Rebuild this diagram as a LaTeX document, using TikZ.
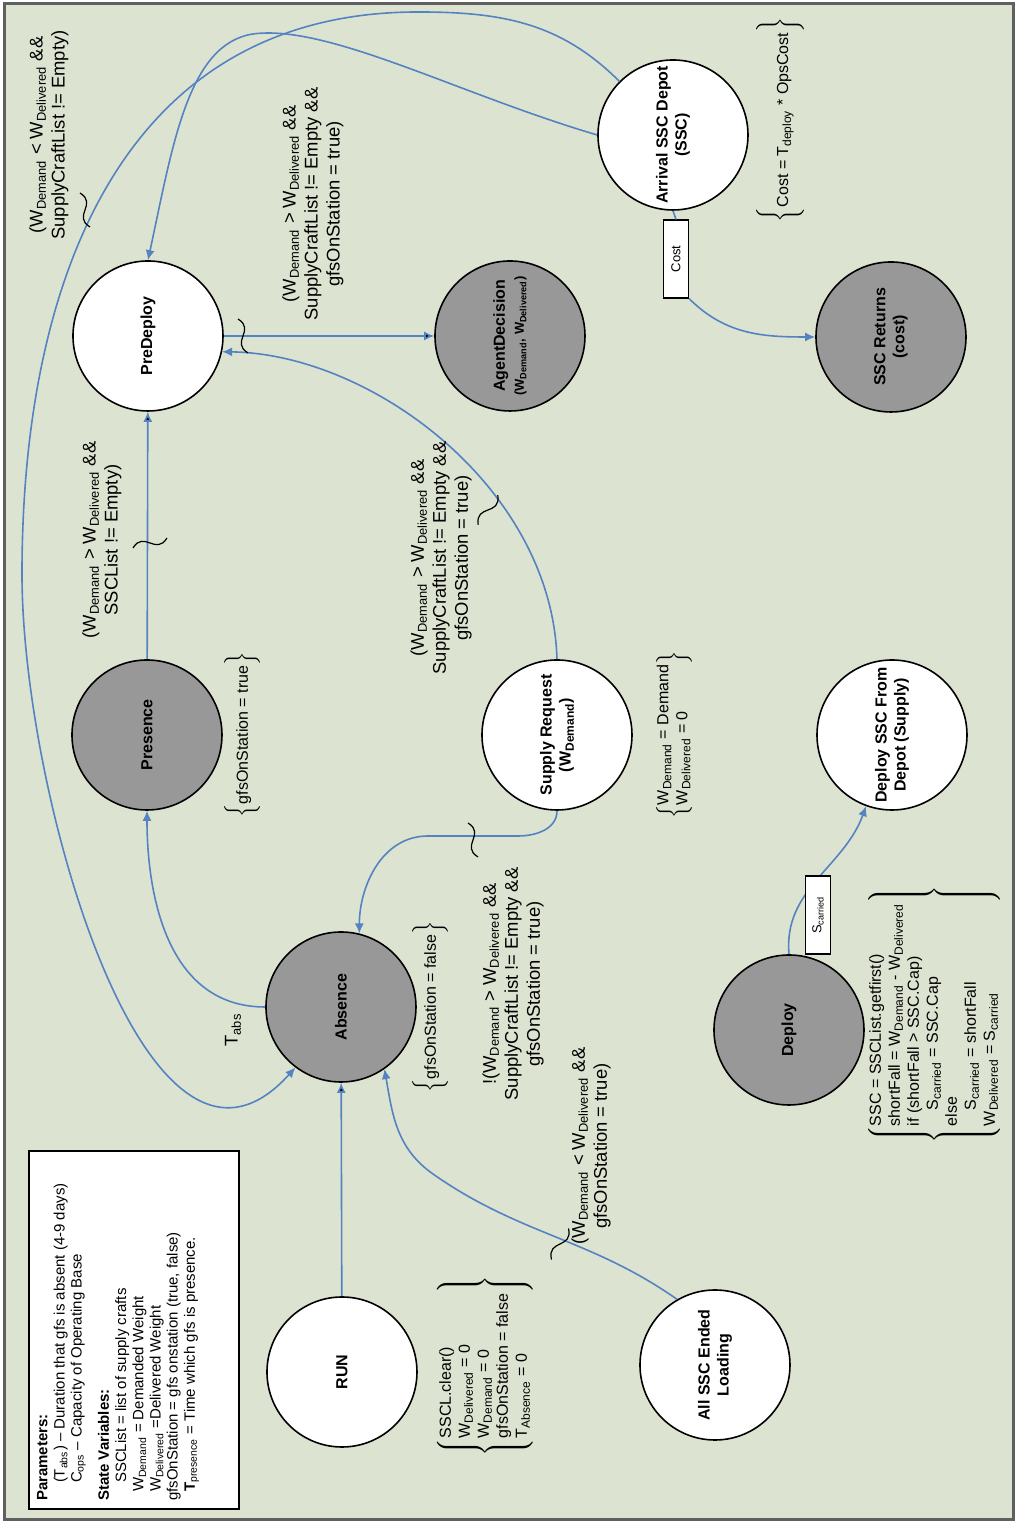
\documentclass[tikz,border=0pt]{standalone}
\usepackage{fontspec}
\setmainfont{Liberation Sans}
\usetikzlibrary{arrows.meta}

\definecolor{paper}{RGB}{221,227,209}
\definecolor{wire}{RGB}{84,131,194}
\definecolor{shade}{RGB}{152,152,152}
\definecolor{rim}{RGB}{96,96,96}

\newcommand{\Wdem}{W\textsubscript{Demand}}
\newcommand{\Wdel}{W\textsubscript{Delivered}}
\newcommand{\effect}[1]{$\left\{\begin{tabular}{@{}l@{}}#1\end{tabular}\right\}$}

\tikzset{
  event/.style      = {circle, draw, line width=0.8pt, minimum size=75pt, inner sep=0pt,
                       align=center, font=\bfseries\fontsize{8}{9.5}\selectfont},
  whitestate/.style = {event, fill=white},
  graystate/.style  = {event, fill=shade},
  flow/.style       = {draw=wire, line width=0.8pt, -{Latex[length=5pt, width=4.5pt]}},
  guard/.style      = {align=center, font=\fontsize{9.2}{11}\selectfont},
  update/.style     = {inner sep=0pt, font=\fontsize{8}{9.5}\selectfont},
  tag/.style        = {draw, fill=white, line width=0.6pt, minimum width=39pt,
                       minimum height=12.5pt, inner sep=0pt, font=\fontsize{6.5}{8}\selectfont},
  squiggle/.pic     = {\draw[line width=0.6pt] (-17,-5) .. controls (-6,13) and (6,-13) .. (17,5);}
}

\begin{document}
\begin{tikzpicture}[x=0.5pt, y=0.5pt, rotate=90, transform shape]
  % sheet and frame
  \fill[white] (0,0) rectangle (1524,1018);
  \fill[paper] (4,5) rectangle (1520,1013);
  \draw[rim, line width=1.5pt] (4,5) rectangle (1520,1013);
  \useasboundingbox (0,0) rectangle (1524,1018);

  % key
  \node[draw, fill=white, line width=1pt, anchor=north west, inner sep=4pt] (key) at (14,990)
    {\parbox[t][97pt][t]{171pt}{\fontsize{7.5}{8.6}\selectfont
      \textbf{Parameters:}\\
      \hspace*{1.2em}(T\textsubscript{abs}) -- Duration that gfs is absent (4-9 days)\\
      \hspace*{1.2em}C\textsubscript{ops} -- Capacity of Operating Base\\[5pt]
      \textbf{State Variables:}\\
      \hspace*{1.2em}SSCList = list of supply crafts\\
      \hspace*{0.6em}\Wdem{} = Demanded Weight\\
      \hspace*{0.6em}\Wdel{} =Delivered Weight\\
      gfsOnStation = gfs onstation (true, false)\\
      \hspace*{0.6em}\textbf{T}\textsubscript{presence} = Time which gfs is presence.}};

  % events
  \node[whitestate] (run)    at (152,676)  {RUN};
  \node[whitestate] (load)   at (159,303)  {All SSC Ended\\Loading};
  \node[graystate]  (abs)    at (517,677)  {Absence};
  \node[graystate]  (pres)   at (789,871)  {Presence};
  \node[whitestate] (req)    at (789,461)  {Supply Request\\(\Wdem)};
  \node[whitestate] (supply) at (789,126)  {Deploy SSC From\\Depot (Supply)};
  \node[graystate]  (dep)    at (494,229)  {Deploy};
  \node[whitestate] (pre)    at (1188,870) {PreDeploy};
  \node[graystate]  (agent)  at (1188,508) {AgentDecision\\{\fontsize{6.5}{8}\selectfont(\Wdem, \Wdel)}};
  \node[whitestate] (arr)    at (1389,345) {Arrival SSC Depot\\(SSC)};
  \node[graystate]  (ret)    at (1187,127) {SSC Returns\\(cost)};

  % transitions
  \path[flow]
    (run)  edge (abs)
    (pres) edge (pre)
    (pre)  edge (agent);
  \draw[flow] (load.30) to[out=55, in=235] (350,585) to[out=55, in=190] (abs.215);
  \draw[flow] (abs.north) .. controls +(0,100) and +(-80,0) .. (pres.west);
  \draw[flow] (req.east) .. controls (1035,466) and (1170,645) .. (pre.-102);
  \draw[flow] (req.west) to[out=180, in=-90] (688,500) -- (688,590)
    to[out=90, in=0] (abs.-14);
  \draw[flow] (arr.north) .. controls (1430,560) and (1500,690) .. (1490,765)
    .. controls (1480,830) and (1380,845) .. (pre.east);
  \draw[flow] (arr.45) to[out=45, in=-90] (1512,600)
    to[out=90, in=0, looseness=1.1] (950,996)
    to[out=180, in=138] (abs.143);
  \draw[flow] (dep.east) to[out=5, in=160] (supply.160);
  \node[tag] (carry) at (609,200) {S\textsubscript{carried}};
  \node[tag] (cost) at (1265,342) {Cost};
  \draw[draw=wire, line width=0.8pt] (arr.west) -- (cost.east);
  \draw[flow] (cost.south west) to[out=225, in=90] (ret.north);

  % guards
  \node[guard] (g1) at (1389,969) {(\Wdem{} < \Wdel{} \&\&\\SupplyCraftList != Empty)};
  \node[guard] (g2) at (1320,705) {(\Wdem{} > \Wdel{} \&\&\\SupplyCraftList != Empty \&\&\\gfsOnStation = true)};
  \node[guard] (g3) at (984,916)  {(\Wdem{} > \Wdel{} \&\&\\SSCList != Empty)};
  \node[guard] (g4) at (966,577)  {(\Wdem{} > \Wdel{} \&\&\\SupplyCraftList != Empty \&\&\\gfsOnStation = true)};
  \node[guard] (g5) at (540,505)  {!(\Wdem{} > \Wdel{} \&\&\\SupplyCraftList != Empty \&\&\\gfsOnStation = true)};
  \node[guard] (g6) at (378,427)  {(\Wdem{} < \Wdel{} \&\&\\gfsOnStation = true)};
  \node[guard] (tabs) at (494,785) {T\textsubscript{abs}};

  \pic at (1314,933) {squiggle};
  \pic at (1188,775) {squiggle};
  \pic[rotate=90] at (981,868) {squiggle};
  \pic[rotate=-50] at (1014,530) {squiggle};
  \pic at (684,545) {squiggle};
  \pic[rotate=-45] at (280,458) {squiggle};

  % state changes
  \node[update] (e1) at (789,776) {\effect{\rule[-4pt]{0pt}{14pt}gfsOnStation = true}};
  \node[update] (e2) at (517,588) {\effect{\rule[-4pt]{0pt}{14pt}gfsOnStation = false}};
  \node[update] (e3) at (158,533) {\effect{SSCL.clear()\\\Wdel{} = 0\\\Wdem{} = 0\\gfsOnStation = false\\T\textsubscript{Absence} = 0}};
  \node[update] (e4) at (789,344) {\effect{\Wdem{} = Demand\\\Wdel{} = 0}};
  \node[update] (e5) at (509,84)  {\effect{SSC = SSCList.getfirst()\\shortFall = \Wdem{} - \Wdel\\if (shortFall > SSC.Cap)\\\quad S\textsubscript{carried} = SSC.Cap\\else\\\quad S\textsubscript{carried} = shortFall\\\Wdel{} = S\textsubscript{carried}}};
  \node[update] (e6) at (1404,238) {\effect{\rule[-9pt]{0pt}{26pt}Cost = T\textsubscript{deploy} * OpsCost}};
\end{tikzpicture}
\end{document}
